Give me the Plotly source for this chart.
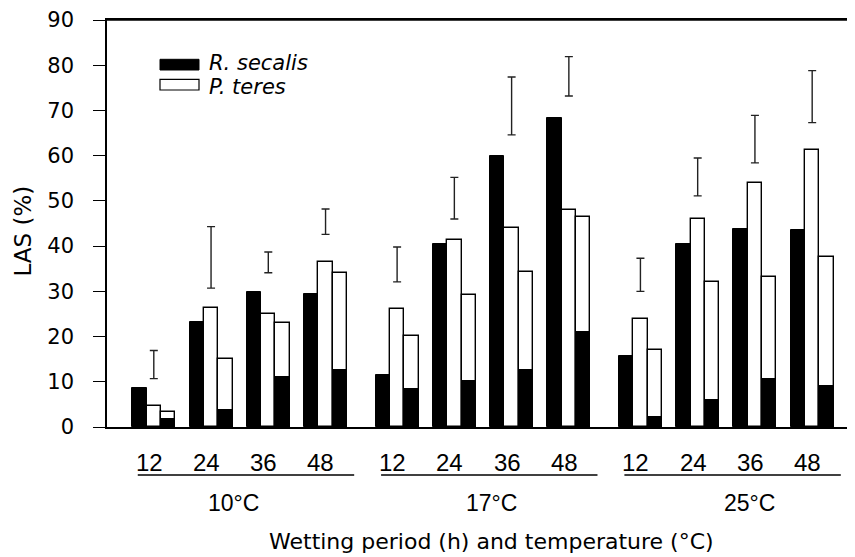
import plotly.graph_objects as go

# ---------------- data ----------------
temperatures = ["10°C", "17°C", "25°C"]
periods = ["12", "24", "36", "48"]
r_secalis = [8.7, 23.2, 29.8, 29.5, 11.6, 40.4, 60.0, 68.4, 15.7, 40.4, 43.8, 43.5]
p_teres = [4.7, 26.3, 24.9, 36.4, 26.0, 41.3, 44.0, 48.0, 23.8, 46.1, 53.9, 61.3]
mixed_total = [3.4, 15.0, 23.0, 34.1, 20.2, 29.1, 34.3, 46.5, 17.0, 32.1, 33.2, 37.5]
mixed_r_secalis = [1.7, 3.7, 11.0, 12.5, 8.5, 10.2, 12.5, 20.9, 2.2, 6.0, 10.7, 9.0]
lsd_low = [10.7, 30.7, 34.1, 42.6, 32.1, 46.0, 64.6, 73.2, 30.0, 51.1, 58.4, 67.3]
lsd_high = [16.9, 44.3, 38.7, 48.2, 39.8, 55.2, 77.4, 81.9, 37.3, 59.5, 68.9, 78.8]
y_ticks = [0, 10, 20, 30, 40, 50, 60, 70, 80, 90]

# ---------------- layout helpers ----------------
BW = 0.25          # bar width (group pitch = 1)
BLOCK_GAP = 0.25   # extra gap between temperature blocks
pos = [i + BLOCK_GAP * (i // len(periods)) for i in range(len(temperatures) * len(periods))]
block_start = [b * (len(periods) + BLOCK_GAP) for b in range(len(temperatures))]

fig = go.Figure()

# single-inoculation R. secalis (black)
fig.add_trace(go.Bar(
    x=[p - BW for p in pos], y=r_secalis, width=BW,
    marker=dict(color="black", line=dict(color="black", width=1)),
    showlegend=False, name="R. secalis"))
# single-inoculation P. teres (white)
fig.add_trace(go.Bar(
    x=pos, y=p_teres, width=BW,
    marker=dict(color="white", line=dict(color="black", width=1.4)),
    showlegend=False, name="P. teres"))
# mixed inoculation: total (white) with R. secalis part (black)
fig.add_trace(go.Bar(
    x=[p + BW for p in pos], y=mixed_total, width=BW,
    marker=dict(color="white", line=dict(color="black", width=1.4)),
    showlegend=False, name="mixed total"))
fig.add_trace(go.Bar(
    x=[p + BW for p in pos], y=mixed_r_secalis, width=BW,
    marker=dict(color="black", line=dict(color="black", width=1)),
    showlegend=False, name="mixed R. secalis"))

# LSD bars
fig.add_trace(go.Scatter(
    x=pos, y=lsd_low, mode="markers",
    marker=dict(size=1, color="rgba(0,0,0,0)"),
    error_y=dict(type="data", symmetric=False,
                 array=[h - l for h, l in zip(lsd_high, lsd_low)],
                 arrayminus=[0] * len(lsd_low),
                 width=4, thickness=1.4, color="#222"),
    showlegend=False, hoverinfo="skip"))

# page has an 8px body margin: figure drawn at (8, 8)
PH = 407.0  # plot height px
def py(pix):  # screen pixel y -> paper
    return (427 - pix) / PH
def px(pix):  # screen pixel x -> paper
    return (pix - 107) / 748.0

ann = []
shapes = []
# top frame line
shapes.append(dict(type="line", xref="paper", yref="paper", x0=0, x1=1, y0=1, y1=1,
                   line=dict(color="black", width=1.6)))
# period labels and underlines
for b in range(len(temperatures)):
    for j, lab in enumerate(periods):
        ann.append(dict(x=pos[b * len(periods) + j] - 0.08, y=py(462.5), xref="x", yref="paper",
                        text=lab, showarrow=False, xanchor="center", yanchor="middle",
                        font=dict(family="Liberation Sans, Arial", size=24, color="black")))
    shapes.append(dict(type="line", xref="x", yref="paper",
                       x0=block_start[b] - 0.28, x1=block_start[b] + 3.5,
                       y0=py(475), y1=py(475), line=dict(color="black", width=1.6)))

temp_label_x = [1.39, 5.89, 10.41]
for t, xx in zip(temperatures, temp_label_x):
    ann.append(dict(x=xx, y=py(503.5), xref="x", yref="paper", text=t, showarrow=False,
                    xanchor="center", yanchor="middle",
                    font=dict(family="Liberation Sans, Arial", size=23, color="black")))

ann.append(dict(x=px(491), y=py(556), xref="paper", yref="paper",
                text="Wetting period (h) and temperature (°C)", showarrow=False,
                xanchor="center", yanchor="bottom",
                font=dict(family="DejaVu Sans", size=22, color="black")))
ann.append(dict(x=px(22.5), y=py(231), xref="paper", yref="paper", text="LAS (%)",
                textangle=-90, showarrow=False, xanchor="center", yanchor="middle",
                font=dict(family="DejaVu Sans", size=23, color="black")))

# legend
shapes.append(dict(type="rect", xref="paper", yref="paper",
                   x0=px(160), x1=px(199), y0=py(70), y1=py(59.3),
                   fillcolor="black", line=dict(color="black", width=1)))
shapes.append(dict(type="rect", xref="paper", yref="paper",
                   x0=px(160), x1=px(199), y0=py(90), y1=py(79.3),
                   fillcolor="white", line=dict(color="black", width=1.2)))
ann.append(dict(x=px(207), y=py(62.5), xref="paper", yref="paper", text="R. secalis",
                showarrow=False, xanchor="left", yanchor="middle",
                font=dict(family="DejaVu Sans", size=21, color="black", style="italic")))
ann.append(dict(x=px(207), y=py(87), xref="paper", yref="paper", text="P. teres",
                showarrow=False, xanchor="left", yanchor="middle",
                font=dict(family="DejaVu Sans", size=21, color="black", style="italic")))

fig.update_layout(
    width=847, height=549, autosize=False,
    margin=dict(l=99, r=0, t=12, b=130, pad=0),
    paper_bgcolor="white", plot_bgcolor="white",
    barmode="overlay", bargap=0,
    annotations=ann, shapes=shapes,
    xaxis=dict(range=[-0.8175, 12.248], showticklabels=False, ticks="",
               showline=True, linecolor="black", linewidth=1.6, mirror=True,
               showgrid=False, zeroline=False, fixedrange=True),
    yaxis=dict(range=[0, 90], tickvals=y_ticks, ticks="outside", ticklen=12,
               tickwidth=1.4, tickcolor="black", showline=True, linecolor="black",
               linewidth=1.6, showgrid=False, zeroline=False, ticklabelstandoff=15,
               ticklabeloverflow="allow",
               tickfont=dict(family="DejaVu Sans", size=21, color="black")),
)

fig.write_html("out.html")
